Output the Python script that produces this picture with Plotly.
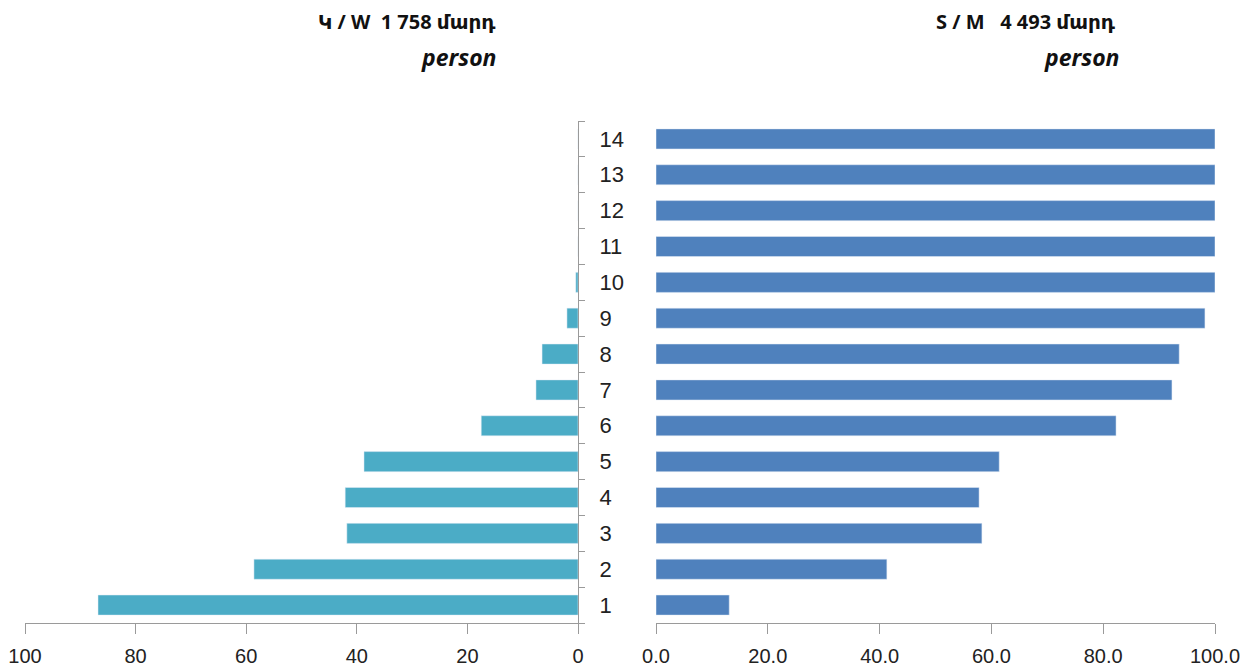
import plotly.graph_objects as go

categories = [str(i) for i in range(1, 15)]
women = [86.8, 58.6, 41.8, 42.1, 38.7, 17.5, 7.6, 6.5, 2.0, 0.4, 0, 0, 0, 0]
men = [13.1, 41.3, 58.3, 57.8, 61.4, 82.3, 92.3, 93.6, 98.2, 100, 100, 100, 100, 100]
left_ticks = [100, 80, 60, 40, 20, 0]
right_ticks = [0, 20, 40, 60, 80, 100]

W, H = 1253, 672
OFF = 8  # page body margin shifts the figure
FONT = "Liberation Sans Narrow, Arial Narrow, Liberation Sans, sans-serif"
TITLE_FONT = "Noto Sans, DejaVu Sans, sans-serif"
AXIS_COLOR = "#9a9a9a"


def px_x(v):
    return (v - OFF) / W


def px_y(v):
    return 1 - (v - OFF) / H


fig = go.Figure()
fig.add_trace(go.Bar(x=women, y=categories, orientation="h", marker_color="#4BACC6",
                     xaxis="x", yaxis="y", showlegend=False))
fig.add_trace(go.Bar(x=men, y=categories, orientation="h", marker_color="#4F81BD",
                     xaxis="x2", yaxis="y2", showlegend=False))

ydom = [px_y(623), px_y(121)]

fig.update_layout(
    width=W, height=H,
    margin=dict(l=0, r=0, t=0, b=0),
    plot_bgcolor="white", paper_bgcolor="white",
    bargap=0.44,
    font=dict(family=FONT, size=21, color="#222"),
    xaxis=dict(domain=[px_x(25), px_x(578)], range=[100, 0], tickvals=left_ticks,
               showline=True, linecolor=AXIS_COLOR, ticks="outside", ticklen=10,
               tickcolor=AXIS_COLOR, showgrid=False, zeroline=False, anchor="y",
               ticklabelstandoff=5, automargin=False, ticklabeloverflow="allow",
               tickfont=dict(size=20)),
    yaxis=dict(domain=ydom, type="category", side="right", anchor="x",
               showline=True, linecolor=AXIS_COLOR, ticks="outside", ticklen=6,
               tickcolor=AXIS_COLOR, tickson="boundaries", showgrid=False,
               ticklabelstandoff=16, automargin=False, tickfont=dict(size=22)),
    xaxis2=dict(domain=[px_x(656), px_x(1215)], range=[0, 100], tickvals=right_ticks,
                tickformat=".1f", showline=True, linecolor=AXIS_COLOR,
                ticks="outside", ticklen=10, tickcolor=AXIS_COLOR, showgrid=False,
                zeroline=False, anchor="y2", ticklabelstandoff=5, automargin=False,
                ticklabeloverflow="allow", tickfont=dict(size=20)),
    yaxis2=dict(domain=ydom, type="category", anchor="x2", showticklabels=False,
                showline=False, showgrid=False, automargin=False),
)

titles = [
    ("Կ / W  1 758 մարդ", 498, 21, False, 20),
    ("person", 498, 57, True, 23),
    ("S / M   4 493 մարդ", 1118, 21, False, 20),
    ("person", 1121, 57, True, 23),
]
for text, tx, ty, italic, size in titles:
    label = f"<b><i>{text}</i></b>" if italic else f"<b>{text}</b>"
    fig.add_annotation(text=label, xref="paper", yref="paper", x=px_x(tx), y=px_y(ty),
                       xanchor="right", yanchor="middle", showarrow=False,
                       font=dict(family=TITLE_FONT, size=size, color="#111"))

fig.write_html("out.html")
